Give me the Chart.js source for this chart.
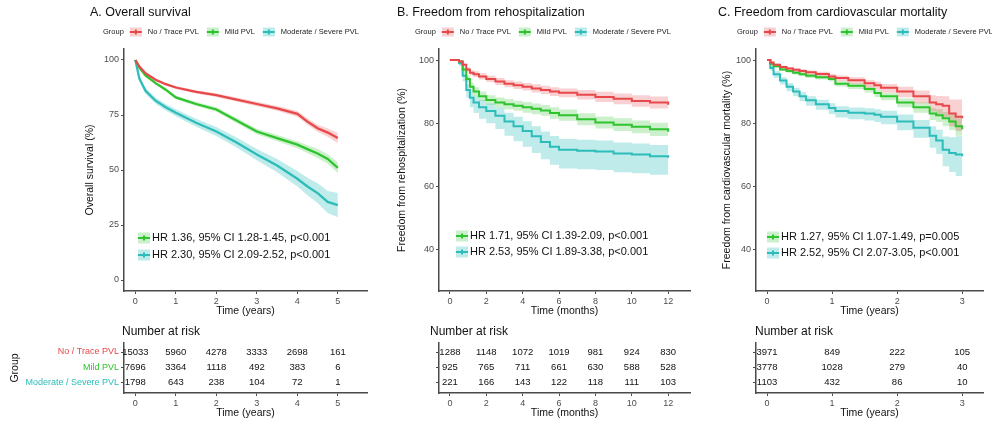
<!DOCTYPE html>
<html>
<head>
<meta charset="utf-8">
<script src="https://cdn.jsdelivr.net/npm/chart.js@4.4.0/dist/chart.umd.min.js"></script>
<style>
  body { margin: 0; background: #fff; }
  #wrap { position: relative; width: 992px; height: 422px; overflow: hidden; background: #fff; }
  canvas { position: absolute; }
</style>
</head>
<body>
<div id="wrap">
  <canvas id="kmA" width="372" height="320" style="left:0px;top:0px"></canvas>
  <canvas id="kmB" width="315" height="320" style="left:380px;top:0px"></canvas>
  <canvas id="kmC" width="292" height="320" style="left:700px;top:0px"></canvas>
  <canvas id="riskA" width="372" height="102" style="left:0px;top:320px"></canvas>
  <canvas id="riskB" width="315" height="102" style="left:380px;top:320px"></canvas>
  <canvas id="riskC" width="292" height="102" style="left:700px;top:320px"></canvas>
</div>
<script>
const groupNames = ["No / Trace PVL", "Mild PVL", "Moderate / Severe PVL"];

// A. Overall survival (years)
const timesA = [0, 0.1, 0.25, 0.5, 0.75, 1, 1.5, 2, 2.5, 3, 3.5, 4, 4.25, 4.5, 4.75, 5];
const noneA = [100, 97, 94, 91, 89, 87.5, 85.5, 84, 82, 80, 78, 75.5, 72, 69, 67, 64.5];
const noneLoA = [100, 96.6, 93.5, 90.4, 88.4, 86.8, 84.8, 83.2, 81.1, 79, 76.9, 74.2, 70.6, 67.4, 65.1, 62.2];
const noneHiA = [100, 97.4, 94.5, 91.6, 89.6, 88.2, 86.2, 84.8, 82.9, 81, 79.1, 76.8, 73.4, 70.6, 68.9, 66.8];
const mildA = [100, 96.5, 93, 89.5, 86.5, 83, 80, 77.5, 72.5, 67.5, 64.5, 61.5, 59.5, 57.5, 55, 51];
const mildLoA = [100, 96.1, 92.5, 88.9, 85.8, 82.2, 79.1, 76.5, 71.4, 66.3, 63.1, 59.9, 57.7, 55.5, 52.8, 48.5];
const mildHiA = [100, 96.9, 93.5, 90.1, 87.2, 83.8, 80.9, 78.5, 73.6, 68.7, 65.9, 63.1, 61.3, 59.5, 57.2, 53.5];
const sevA = [100, 91.5, 86, 81.5, 78.5, 76, 71.5, 67.5, 62.5, 57, 52, 46, 42.5, 39.5, 35.5, 34];
const sevLoA = [100, 90.3, 84.7, 80.1, 77, 74.4, 69.7, 65.5, 60.2, 54.4, 49, 42.5, 38.5, 35, 30.5, 28.5];
const sevHiA = [100, 92.7, 87.3, 82.9, 80, 77.6, 73.3, 69.5, 64.8, 59.6, 55, 49.5, 46.5, 44, 40.5, 39.5];
const hrA = ["HR 1.36, 95% CI 1.28-1.45, p<0.001", "HR 2.30, 95% CI 2.09-2.52, p<0.001"];

// B. Freedom from rehospitalization (months)
const timesB = [0, 0.5, 0.7, 0.9, 1.1, 1.3, 1.6, 2, 2.5, 3, 3.5, 4, 4.5, 5, 5.5, 6, 7, 8, 9, 10, 11, 12];
const noneB = [100, 99.5, 98.5, 97, 96, 95.5, 94.8, 94, 93.2, 92.5, 92, 91.5, 91, 90.5, 90, 89.6, 89, 88.3, 87.7, 87, 86.5, 85.8];
const noneLoB = [100, 99.2, 98, 96.3, 95.2, 94.6, 93.8, 93, 92.1, 91.4, 90.8, 90.3, 89.7, 89.2, 88.6, 88.2, 87.5, 86.7, 86, 85.2, 84.6, 83.8];
const noneHiB = [100, 99.8, 99, 97.7, 96.8, 96.4, 95.8, 95, 94.3, 93.6, 93.2, 92.7, 92.3, 91.8, 91.4, 91, 90.5, 89.9, 89.4, 88.8, 88.4, 87.8];
const mildB = [100, 99.5, 97, 94, 91.5, 90, 88.5, 87.3, 86.5, 86, 85.5, 85, 84.5, 84, 83.2, 82.5, 81.2, 80.2, 79.5, 78.8, 78, 77.2];
const mildLoB = [100, 99.2, 96.2, 92.9, 90.2, 88.6, 87, 85.8, 84.9, 84.4, 83.9, 83.3, 82.8, 82.3, 81.4, 80.7, 79.3, 78.3, 77.5, 76.8, 75.9, 75];
const mildHiB = [100, 99.8, 97.8, 95.1, 92.8, 91.4, 90, 88.8, 88.1, 87.6, 87.1, 86.7, 86.2, 85.7, 85, 84.3, 83.1, 82.1, 81.5, 80.8, 80.1, 79.4];
const sevB = [100, 99, 95, 90.5, 88, 86.5, 85, 83.8, 82.3, 80.5, 79, 77.5, 75.8, 74, 72.5, 71.5, 71.2, 71, 70.3, 70, 69.5, 69];
const sevLoB = [100, 98.2, 93.3, 88, 85, 83.2, 81.4, 79.9, 78.1, 76, 74.2, 72.5, 70.5, 68.5, 66.8, 65.6, 65.3, 65.1, 64.4, 64.1, 63.6, 63.2];
const sevHiB = [100, 99.6, 96.3, 92.3, 90, 88.7, 87.3, 86.2, 84.9, 83.3, 82, 80.6, 79, 77.3, 75.9, 74.9, 74.7, 74.5, 73.8, 73.5, 73, 72.5];
const hrB = ["HR 1.71, 95% CI 1.39-2.09, p<0.001", "HR 2.53, 95% CI 1.89-3.38, p<0.001"];

// C. Freedom from cardiovascular mortality (years)
const timesC = [0, 0.05, 0.1, 0.2, 0.3, 0.4, 0.5, 0.6, 0.75, 0.95, 1.05, 1.25, 1.5, 1.65, 1.75, 2, 2.25, 2.5, 2.6, 2.7, 2.8, 2.9, 3];
const noneC = [100, 99.2, 98.5, 97.8, 97.3, 96.9, 96.5, 96.1, 95.6, 94.8, 94.3, 93.6, 92.6, 92, 91.2, 90, 88.5, 86.5, 86, 85.5, 83, 82, 81.5];
const noneLoC = [100, 98.8, 98, 97.2, 96.6, 96.2, 95.7, 95.3, 94.7, 93.8, 93.3, 92.5, 91.3, 90.6, 89.7, 88.2, 86.3, 83.7, 82.8, 81.9, 79, 77.5, 76.5];
const noneHiC = [100, 99.5, 98.9, 98.3, 97.8, 97.4, 97.1, 96.7, 96.3, 95.6, 95.1, 94.5, 93.6, 93.1, 92.4, 91.5, 90.3, 88.8, 88.6, 88.5, 87.5, 87.5, 87.5];
const mildC = [100, 98.8, 98, 97, 96.5, 96, 95.5, 95, 94.5, 94, 92.5, 91.8, 90.8, 89.5, 88.5, 86.5, 85, 83, 82.5, 81.5, 80.5, 79, 78];
const mildLoC = [100, 98.5, 97.6, 96.5, 96, 95.4, 94.9, 94.3, 93.8, 93.2, 91.6, 90.8, 89.7, 88.3, 87.2, 85, 83.3, 81, 80.3, 79.1, 77.8, 76, 74.5];
const mildHiC = [100, 99.1, 98.3, 97.4, 96.9, 96.5, 96, 95.6, 95.1, 94.7, 93.3, 92.6, 91.7, 90.5, 89.6, 87.8, 86.5, 84.7, 84.4, 83.5, 82.7, 81.5, 80.7];
const sevC = [100, 97.5, 95.5, 93.5, 91.5, 90, 88.5, 87.2, 86, 84.8, 83.8, 83.3, 83, 82.6, 82, 80.5, 78.5, 76, 74.5, 71.5, 70.5, 70, 69.5];
const sevLoC = [100, 96.6, 94.4, 92.2, 90.1, 88.5, 86.9, 85.5, 84.2, 82.9, 81.8, 81.2, 80.8, 80.3, 79.6, 77.7, 75.3, 72.2, 70.2, 66.3, 64.5, 63.2, 62.5];
const sevHiC = [100, 98.2, 96.4, 94.5, 92.6, 91.2, 89.8, 88.5, 87.4, 86.3, 85.3, 84.9, 84.7, 84.4, 83.9, 82.7, 81, 79, 77.9, 75.7, 75.5, 75.8, 76];
const hrC = ["HR 1.27, 95% CI 1.07-1.49, p=0.005", "HR 2.52, 95% CI 2.07-3.05, p<0.001"];

// number at risk
const riskTimesA = [0, 1, 2, 3, 4, 5];
const riskNoneA = [15033, 5960, 4278, 3333, 2698, 161];
const riskMildA = [7696, 3364, 1118, 492, 383, 6];
const riskSevA = [1798, 643, 238, 104, 72, 1];
const riskTimesB = [0, 2, 4, 6, 8, 10, 12];
const riskNoneB = [1288, 1148, 1072, 1019, 981, 924, 830];
const riskMildB = [925, 765, 711, 661, 630, 588, 528];
const riskSevB = [221, 166, 143, 122, 118, 111, 103];
const riskTimesC = [0, 1, 2, 3];
const riskNoneC = [3971, 849, 222, 105];
const riskMildC = [3778, 1028, 279, 40];
const riskSevC = [1103, 432, 86, 10];

const yTicksA = [0, 25, 50, 75, 100];
const yTicksBC = [40, 60, 80, 100];

const lineColors = ["#E8484A", "#2EC42E", "#2CBDBA"];
const bandColors = ["rgba(232,72,74,0.25)", "rgba(46,196,46,0.25)", "rgba(44,189,186,0.3)"];
const axisColor = "#4a4a4a";
const tickColor = "#4d4d4d";
const fam = "'Liberation Sans', Arial, sans-serif";

Chart.defaults.font.family = fam;
Chart.defaults.color = tickColor;

function xy(times, vals) {
  return times.map((t, i) => ({ x: t, y: vals[i] }));
}

function drawKey(ctx, x, y, w, h, g) {
  ctx.fillStyle = bandColors[g];
  ctx.fillRect(x, y - h / 2, w, h);
  ctx.strokeStyle = lineColors[g];
  ctx.lineWidth = 2;
  ctx.beginPath();
  ctx.moveTo(x, y);
  ctx.lineTo(x + w, y);
  ctx.moveTo(x + w / 2, y - 2.5);
  ctx.lineTo(x + w / 2, y + 2.5);
  ctx.stroke();
}

function axisX(min, max, ticks, title) {
  return {
    type: "linear", min: min, max: max,
    afterBuildTicks: s => { s.ticks = ticks.map(v => ({ value: v })); },
    afterFit: s => { s.height = 29; },
    grid: { drawOnChartArea: false, tickLength: 3, color: axisColor },
    border: { color: axisColor, width: 1.5 },
    ticks: { padding: 2, font: { size: 9 }, color: tickColor, maxRotation: 0, autoSkip: false },
    title: { display: true, text: title, color: "#111", font: { size: 10.5 }, padding: { top: 0, bottom: 3 } }
  };
}

// title, legend row and HR notes of one panel
function headerPlugin(h) {
  return {
    id: "header",
    afterDraw(chart) {
      const ctx = chart.ctx;
      const off = h.left;
      ctx.save();
      ctx.textBaseline = "middle";
      ctx.textAlign = "left";
      ctx.fillStyle = "#111";
      ctx.font = "12.5px " + fam;
      ctx.fillText(h.title, h.titleX - off, 13);

      ctx.font = "7.5px " + fam;
      let x = h.legendX - off;
      ctx.fillStyle = "#222";
      ctx.fillText("Group", x, 32);
      x += ctx.measureText("Group").width + 6;
      groupNames.forEach((name, g) => {
        drawKey(ctx, x, 32, 12, 9, g);
        x += 18;
        ctx.fillStyle = "#222";
        ctx.fillText(name, x, 32);
        x += ctx.measureText(name).width + 8;
      });

      ctx.font = "11px " + fam;
      h.hr.forEach((txt, k) => {
        const y = h.hrY + k * h.hrGap;
        drawKey(ctx, h.hrX - off, y, 12, 11, k + 1);
        ctx.fillStyle = "#111";
        ctx.fillText(txt, h.hrX - off + 14, y);
      });
      ctx.restore();
    }
  };
}

function kmChart(id, o) {
  const datasets = [];
  o.curves.forEach((c, g) => {
    datasets.push({
      data: xy(o.times, c), borderColor: lineColors[g], borderWidth: o.lineWidth,
      pointRadius: 0, stepped: o.stepped, fill: false
    });
  });
  o.bands.forEach((b, g) => {
    datasets.push({
      data: xy(o.times, b[1]), borderColor: "rgba(0,0,0,0)", borderWidth: 1,
      pointRadius: 0, stepped: o.stepped, fill: false
    });
    datasets.push({
      data: xy(o.times, b[0]), borderColor: "rgba(0,0,0,0)", borderWidth: 1,
      pointRadius: 0, stepped: o.stepped, fill: "-1", backgroundColor: bandColors[g]
    });
  });

  new Chart(document.getElementById(id), {
    type: "line",
    data: { datasets: datasets },
    options: {
      responsive: false,
      animation: false,
      events: [],
      layout: { padding: { left: o.padLeft, right: o.padRight, top: 49, bottom: 0 } },
      plugins: { legend: { display: false }, tooltip: { enabled: false } },
      scales: {
        x: axisX(o.xMin, o.xMax, o.xTicks, o.xTitle),
        y: {
          type: "linear", min: o.yMin, max: o.yMax,
          afterBuildTicks: s => { s.ticks = o.yTicks.map(v => ({ value: v })); },
          afterFit: s => { s.width = o.yWidth; },
          grid: { drawOnChartArea: false, tickLength: 3, color: axisColor },
          border: { color: axisColor, width: 1.5 },
          ticks: { padding: 2, font: { size: 9 }, color: tickColor },
          title: { display: true, text: o.yTitle, color: "#111", font: { size: 10.5 } }
        }
      }
    },
    plugins: [headerPlugin(o.header)]
  });
}

// writes the counts at the points placed by the scales
function riskPlugin(o) {
  return {
    id: "riskText",
    afterDatasetsDraw(chart) {
      const ctx = chart.ctx;
      ctx.save();
      ctx.textBaseline = "middle";
      ctx.textAlign = "left";
      ctx.fillStyle = "#111";
      ctx.font = "12px " + fam;
      ctx.fillText("Number at risk", o.labelX - o.left, 12);
      ctx.textAlign = "center";
      ctx.font = "9.5px " + fam;
      chart.data.datasets.forEach((ds, r) => {
        const meta = chart.getDatasetMeta(r);
        meta.data.forEach((pt, i) => {
          ctx.fillText(String(ds.data[i].n), pt.x, pt.y);
        });
      });
      ctx.restore();
    }
  };
}

function riskChart(id, o) {
  const datasets = o.rows.map((counts, r) => ({
    data: o.times.map((t, i) => ({ x: t, y: r + 1, n: counts[i] })),
    pointRadius: 0, showLine: false
  }));
  new Chart(document.getElementById(id), {
    type: "scatter",
    data: { datasets: datasets },
    options: {
      responsive: false,
      animation: false,
      events: [],
      layout: { padding: { left: o.padLeft, right: o.padRight, top: 23, bottom: 0 } },
      plugins: { legend: { display: false }, tooltip: { enabled: false } },
      scales: {
        x: axisX(o.xMin, o.xMax, o.times, o.xTitle),
        y: {
          type: "linear", reverse: true, min: 0.4, max: 3.73,
          afterBuildTicks: s => { s.ticks = [1, 2, 3].map(v => ({ value: v })); },
          afterFit: s => { s.width = o.yWidth; },
          grid: { drawOnChartArea: false, tickLength: 3, color: axisColor },
          border: { color: axisColor, width: 1.5 },
          ticks: {
            padding: 2, font: { size: 9 },
            callback: v => (o.showNames ? groupNames[v - 1] : ""),
            color: c => lineColors[c.index]
          },
          title: { display: o.showNames, text: "Group", color: "#111", font: { size: 10.5 }, padding: { top: 8.7, bottom: 0 } }
        }
      }
    },
    plugins: [riskPlugin(o)]
  });
}

kmChart("kmA", {
  times: timesA, stepped: false, lineWidth: 2.3,
  curves: [noneA, mildA, sevA],
  bands: [[noneLoA, noneHiA], [mildLoA, mildHiA], [sevLoA, sevHiA]],
  xMin: -0.28, xMax: 5.72, xTicks: riskTimesA, xTitle: "Time (years)",
  yMin: -5, yMax: 105, yTicks: yTicksA, yTitle: "Overall survival (%)",
  yWidth: 44, padLeft: 80, padRight: 5,
  header: { left: 0, title: "A. Overall survival", titleX: 90, legendX: 103, hr: hrA, hrX: 138, hrY: 238, hrGap: 17 }
});

kmChart("kmB", {
  times: timesB, stepped: true, lineWidth: 2,
  curves: [noneB, mildB, sevB],
  bands: [[noneLoB, noneHiB], [mildLoB, mildHiB], [sevLoB, sevHiB]],
  xMin: -0.6, xMax: 13.2, xTicks: riskTimesB, xTitle: "Time (months)",
  yMin: 26.7, yMax: 103.5, yTicks: yTicksBC, yTitle: "Freedom from rehospitalization (%)",
  yWidth: 47, padLeft: 12, padRight: 5,
  header: { left: 380, title: "B. Freedom from rehospitalization", titleX: 397, legendX: 415, hr: hrB, hrX: 456, hrY: 236, hrGap: 16 }
});

kmChart("kmC", {
  times: timesC, stepped: true, lineWidth: 2,
  curves: [noneC, mildC, sevC],
  bands: [[noneLoC, noneHiC], [mildLoC, mildHiC], [sevLoC, sevHiC]],
  xMin: -0.17, xMax: 3.32, xTicks: riskTimesC, xTitle: "Time (years)",
  yMin: 26.7, yMax: 103.5, yTicks: yTicksBC, yTitle: "Freedom from cardiovascular mortality (%)",
  yWidth: 39, padLeft: 17, padRight: 9,
  header: { left: 700, title: "C. Freedom from cardiovascular mortality", titleX: 718, legendX: 737, hr: hrC, hrX: 767, hrY: 237, hrGap: 16 }
});

riskChart("riskA", {
  times: riskTimesA, rows: [riskNoneA, riskMildA, riskSevA], showNames: true,
  xMin: -0.28, xMax: 5.72, xTitle: "Time (years)",
  yWidth: 124, padLeft: 0, padRight: 5, left: 0, labelX: 122
});

riskChart("riskB", {
  times: riskTimesB, rows: [riskNoneB, riskMildB, riskSevB], showNames: false,
  xMin: -0.6, xMax: 13.2, xTitle: "Time (months)",
  yWidth: 10, padLeft: 49, padRight: 5, left: 380, labelX: 430
});

riskChart("riskC", {
  times: riskTimesC, rows: [riskNoneC, riskMildC, riskSevC], showNames: false,
  xMin: -0.17, xMax: 3.32, xTitle: "Time (years)",
  yWidth: 10, padLeft: 46, padRight: 9, left: 700, labelX: 755
});
</script>
</body>
</html>
